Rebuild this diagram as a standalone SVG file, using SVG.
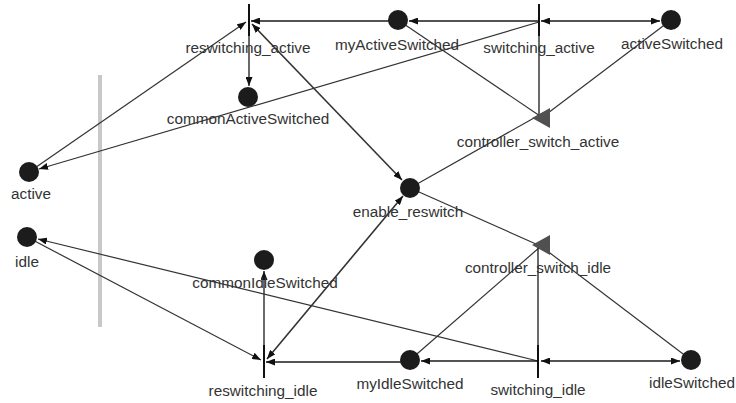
<svg xmlns="http://www.w3.org/2000/svg" width="736" height="403" viewBox="0 0 736 403">
<style>
.lbl{font-family:"Liberation Sans",Arial,sans-serif;font-size:15.3px;fill:#333;text-anchor:middle}
.place{fill:#1c1c1c}
.bar{stroke:#111;stroke-width:2}
.tri{fill:#505050}
.e{stroke:#333;stroke-width:1.2;fill:none}
.h{stroke:#1a1a1a;stroke-width:1.3;fill:none}
.a{marker-end:url(#ah)}
.b{marker-start:url(#ah);marker-end:url(#ah)}
</style>
<defs>
<marker id="ah" markerWidth="9" markerHeight="7" refX="9" refY="3.5" orient="auto-start-reverse" markerUnits="userSpaceOnUse">
<path d="M0,0 L9,3.5 L0,7 z" fill="#111"/>
</marker>
</defs>
<rect x="98" y="75" width="4" height="252" fill="#c8c8c8"/>
<g id="connectors">
<line class="h a" x1="398" y1="21" x2="251" y2="21"/>
<line class="h a" x1="539" y1="21" x2="409" y2="21"/>
<line class="h b" x1="541" y1="21" x2="660" y2="21"/>
<line class="h a" x1="249" y1="21" x2="249" y2="86"/>
<line class="e a" x1="29" y1="172" x2="246" y2="22"/>
<line class="e a" x1="539" y1="22" x2="39" y2="169"/>
<line class="e b" x1="252" y1="24" x2="402" y2="180" style="stroke-width:1.6"/>
<line class="e" x1="398" y1="20" x2="540" y2="116"/>
<line class="e" x1="671" y1="20" x2="548" y2="113"/>
<line class="h" x1="539" y1="21" x2="539" y2="115"/>
<line class="e" x1="534" y1="118" x2="410" y2="188"/>
<line class="e" x1="410" y1="188" x2="536" y2="244"/>
<line class="e b" x1="403" y1="196" x2="267" y2="359" style="stroke-width:1.6"/>
<line class="h a" x1="264" y1="362" x2="264" y2="271"/>
<line class="e a" x1="27" y1="237" x2="261" y2="360"/>
<line class="e a" x1="538" y1="361" x2="38" y2="239"/>
<line class="h a" x1="410" y1="362" x2="266" y2="362"/>
<line class="h a" x1="538" y1="361" x2="421" y2="361"/>
<line class="h b" x1="541" y1="361" x2="680" y2="361"/>
<line class="e" x1="410" y1="360" x2="540" y2="247"/>
<line class="e" x1="691" y1="360" x2="546" y2="250"/>
<line class="h" x1="538" y1="361" x2="538" y2="246"/>
</g>
<g id="reswitching_active"><line class="bar" x1="249" y1="4" x2="249" y2="36"/><text class="lbl" x="248" y="53">reswitching_active</text></g>
<g id="myActiveSwitched"><circle class="place" cx="398" cy="20" r="10"/><text class="lbl" x="397" y="50">myActiveSwitched</text></g>
<g id="switching_active"><line class="bar" x1="539" y1="4" x2="539" y2="36"/><text class="lbl" x="539" y="53">switching_active</text></g>
<g id="activeSwitched"><circle class="place" cx="671" cy="20" r="10"/><text class="lbl" x="672" y="49">activeSwitched</text></g>
<g id="commonActiveSwitched"><circle class="place" cx="248" cy="97" r="10"/><text class="lbl" x="248" y="124">commonActiveSwitched</text></g>
<g id="controller_switch_active"><polygon class="tri" points="532,118 550,108 550,128"/><text class="lbl" x="538" y="147">controller_switch_active</text></g>
<g id="active"><circle class="place" cx="29" cy="172" r="10"/><text class="lbl" x="31" y="199">active</text></g>
<g id="enable_reswitch"><circle class="place" cx="410" cy="188" r="10"/><text class="lbl" x="408" y="217">enable_reswitch</text></g>
<g id="idle"><circle class="place" cx="27" cy="237" r="10"/><text class="lbl" x="27" y="267">idle</text></g>
<g id="controller_switch_idle"><polygon class="tri" points="532,245 550,235 550,255"/><text class="lbl" x="538" y="273">controller_switch_idle</text></g>
<g id="commonIdleSwitched"><circle class="place" cx="264" cy="260" r="10"/><text class="lbl" x="265" y="288">commonIdleSwitched</text></g>
<g id="reswitching_idle"><line class="bar" x1="264" y1="345" x2="264" y2="378"/><text class="lbl" x="263" y="396">reswitching_idle</text></g>
<g id="myIdleSwitched"><circle class="place" cx="410" cy="360" r="10"/><text class="lbl" x="410" y="389">myIdleSwitched</text></g>
<g id="switching_idle"><line class="bar" x1="538" y1="345" x2="538" y2="378"/><text class="lbl" x="538" y="395">switching_idle</text></g>
<g id="idleSwitched"><circle class="place" cx="691" cy="360" r="10"/><text class="lbl" x="692" y="388">idleSwitched</text></g>
</svg>
